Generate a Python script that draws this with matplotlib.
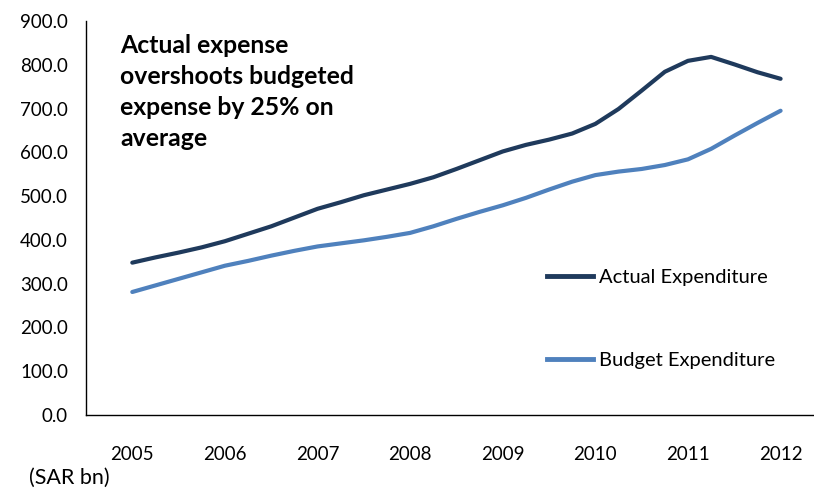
import matplotlib
matplotlib.use("Agg")
import matplotlib.pyplot as plt
from matplotlib.lines import Line2D

plt.rcParams['font.family'] = ['Lato', 'DejaVu Sans']

# Quarterly series, SAR bn
quarters = [2005 + 0.25 * i for i in range(29)]
actual = [348, 360, 371, 383, 397, 414, 431, 451, 471, 486, 502, 515, 528,
          543, 562, 582, 602, 617, 629, 643, 665, 699, 741, 784, 809, 818,
          801, 783, 768]
budget = [281, 296, 311, 326, 341, 352, 364, 375, 385, 392, 399, 407, 416,
          431, 448, 464, 479, 496, 515, 533, 548, 556, 562, 571, 584, 608,
          638, 667, 695]
years = [2005, 2006, 2007, 2008, 2009, 2010, 2011, 2012]
y_ticks = [0, 100, 200, 300, 400, 500, 600, 700, 800, 900]

dark = '#1F3A5C'
light = '#4F81BD'

fig = plt.figure(figsize=(8.14, 4.88), dpi=100)
ax = fig.add_axes([86 / 814, 1 - 415 / 488, (813 - 86) / 814, (415 - 21) / 488])

ax.plot(quarters, actual, color=dark, lw=3.0, solid_capstyle='round',
        solid_joinstyle='round')
ax.plot(quarters, budget, color=light, lw=3.0, solid_capstyle='round',
        solid_joinstyle='round')

ax.set_xlim(2004.5, 2012.35)
ax.set_ylim(0, 900)
ax.set_xticks(years)
ax.set_xticklabels([str(y) for y in years])
ax.set_yticks(y_ticks)
ax.set_yticklabels([f'{v:.1f}' for v in y_ticks])
ax.tick_params(axis='both', length=0, labelsize=13.5, colors='black')
ax.tick_params(axis='x', pad=22)
ax.tick_params(axis='y', pad=13)

for side in ('top', 'right'):
    ax.spines[side].set_visible(False)
for side in ('left', 'bottom'):
    ax.spines[side].set_color('black')
    ax.spines[side].set_linewidth(1.0)

fig.text(120 / 814, 1 - 34 / 488,
         'Actual expense\novershoots budgeted\nexpense by 25% on\naverage',
         fontsize=17.8, fontweight='bold', va='top', ha='left',
         linespacing=1.42)

fig.text(29 / 814, 1 - 478 / 488, '(SAR bn)', fontsize=15.5, va='center', ha='left')

handles = [Line2D([], [], color=dark, lw=3.5), Line2D([], [], color=light, lw=3.5)]
ax.legend(handles, ['Actual Expenditure', 'Budget Expenditure'],
          loc='upper left', bbox_to_anchor=(547 / 814, 1 - 269 / 488),
          bbox_transform=fig.transFigure, frameon=False, fontsize=14.5,
          handlelength=2.3, handletextpad=0.3, labelspacing=3.25,
          borderpad=0, borderaxespad=0)

fig.savefig('out.png', dpi=100)
